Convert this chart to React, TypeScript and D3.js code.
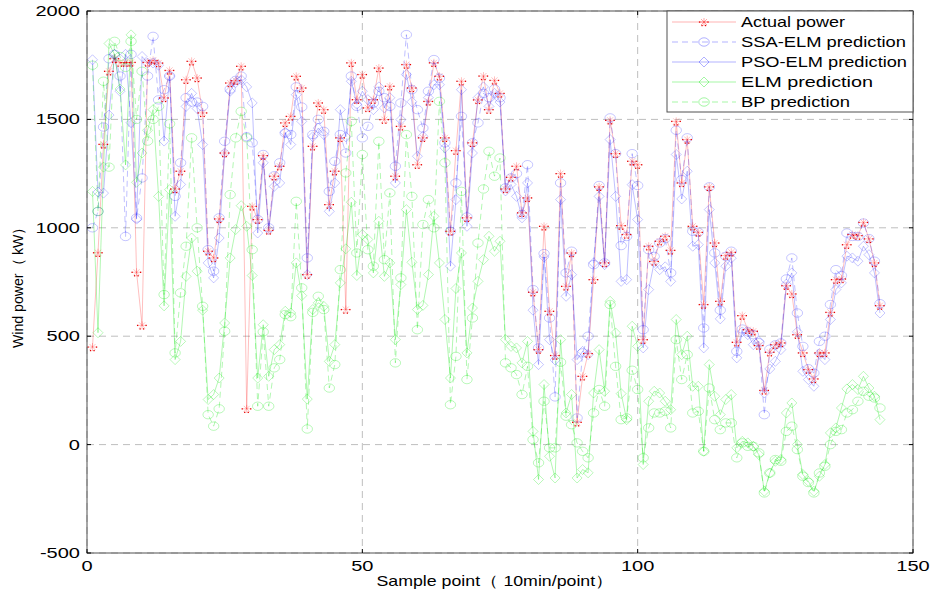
import React from "react";
import * as d3 from "d3";

// Sample points (10 min each)
const samplePoints: number[] = d3.range(1, 145);

const actualPower: number[] = [
  450, 885, 1385, 1722, 1780, 1762, 1762, 1763, 795, 550,
  1763, 1772, 1760, 1599, 1726, 1179, 1261, 1683, 1768, 1691,
  1530, 892, 861, 1041, 1345, 1668, 1679, 1745, 165, 1099,
  1038, 1333, 988, 1238, 1284, 1484, 1514, 1699, 1645, 784,
  1376, 1576, 1545, 1107, 1261, 1415, 623, 1761, 1591, 1707,
  1553, 1591, 1737, 1499, 1653, 1238, 1468, 1753, 1645, 1291,
  1415, 1583, 1761, 1699, 1415, 984, 1356, 1676, 1046, 1392,
  1590, 1700, 1545, 1680, 1620, 1179, 1233, 1284, 1069, 1138,
  703, 438, 1007, 615, 411, 1250, 730, 884, 103, 315,
  420, 761, 1189, 838, 1496, 1342, 1010, 969, 1307, 1291,
  484, 915, 845, 938, 961, 896, 1491, 1207, 1407, 1007,
  979, 646, 1189, 930, 661, 872, 887, 472, 595, 530,
  523, 457, 250, 426, 461, 469, 733, 695, 507, 423,
  346, 303, 423, 423, 610, 761, 764, 922, 969, 964,
  1025, 949, 838, 641,
];

const ssaElm: number[] = [
  1000, 1075, 1465, 1780, 1800, 1700, 960, 1800, 1045, 1230,
  1700, 1883, 1590, 1637, 1700, 1145, 1300, 1600, 1580, 1580,
  1560, 899, 800, 1046, 1399, 1640, 1680, 1700, 1420, 1392,
  1038, 1338, 1000, 1240, 1300, 1437, 1430, 1650, 1557, 861,
  1430, 1500, 1445, 1168, 1307, 1430, 1345, 1700, 1560, 1415,
  1468, 1575, 1630, 1600, 1560, 1284, 1576, 1891, 1637, 1545,
  1460, 1630, 1776, 1690, 1392, 984, 1207, 1514, 1050, 1392,
  1484, 1620, 1600, 1640, 1600, 1184, 1230, 1250, 1061, 1291,
  715, 446, 881, 584, 220, 1207, 792, 892, 123, 423,
  500, 830, 1195, 838, 1507, 1342, 918, 960, 1342, 1195,
  530, 899, 868, 930, 950, 792, 1450, 1222, 1415, 984,
  980, 538, 1189, 884, 620, 868, 892, 430, 533, 520,
  507, 470, 138, 440, 460, 469, 764, 861, 607, 453,
  350, 330, 476, 500, 646, 807, 780, 976, 960, 960,
  1022, 950, 846, 650,
];

const psoElm: number[] = [
  1775, 1165, 1160, 1520, 1800, 1630, 1800, 1485, 1040, 1790,
  1760, 1760, 1750, 1400, 1700, 1053, 1200, 1560, 1620, 1550,
  1384, 838, 769, 953, 1345, 1630, 1670, 1683, 1650, 1576,
  976, 1300, 992, 1191, 1207, 1440, 1384, 1614, 1491, 784,
  1420, 1460, 1430, 1076, 1207, 1545, 1420, 1676, 1570, 1630,
  1591, 1545, 1650, 1553, 1600, 1207, 1499, 1707, 1581, 1330,
  1422, 1600, 1660, 1660, 1369, 823, 1130, 1637, 1007, 1345,
  1600, 1650, 1560, 1620, 1580, 1170, 1200, 1145, 1046, 1207,
  620, 369, 866, 484, 390, 1130, 684, 784, 392, 430,
  415, 838, 1145, 830, 1407, 1145, 753, 761, 1199, 1038,
  446, 715, 840, 807, 820, 753, 1338, 1133, 1261, 915,
  922, 446, 1084, 838, 580, 823, 860, 400, 520, 507,
  461, 476, 238, 349, 384, 438, 740, 792, 520, 338,
  300, 269, 420, 392, 577, 715, 746, 869, 861, 846,
  915, 876, 792, 607,
];

const elmPred: number[] = [
  1168, 516, 1280, 1850, 1800, 1640, 1290, 1890, 1210, 1345,
  1450, 1545, 1145, 640, 1176, 392, 476, 776, 953, 800,
  620, 208, 231, 307, 561, 861, 992, 1102, 1007, 780,
  307, 553, 315, 438, 461, 615, 607, 838, 687, 210,
  623, 654, 638, 384, 461, 746, 903, 1118, 780, 969,
  946, 792, 1030, 776, 838, 484, 738, 1084, 841, 623,
  642, 784, 1053, 838, 577, 307, 720, 884, 423, 630,
  753, 853, 961, 892, 938, 484, 453, 446, 377, 476,
  61, -161, 277, -54, -154, 484, 146, 231, -154, -115,
  -130, 238, 438, 246, 661, 515, 235, 115, 546, 453,
  -92, 200, 246, 238, 200, 161, 577, 415, 500, 269,
  269, -31, 369, 223, 138, 208, 231, -15, 15, 8,
  -8, -46, -215, -131, -77, -69, 146, 192, 0, -138,
  -169, -215, -146, -92, 54, 77, 169, 257, 277, 254,
  315, 261, 223, 115,
];

const bpPred: number[] = [
  1750, 1076, 1676, 1280, 1860, 1790, 1740, 1860, 1500, 1722,
  1400, 1500, 1560, 692, 1480, 423, 700, 915, 1415, 1000,
  638, 138, 85, 165, 523, 1153, 1415, 1537, 1415, 899,
  177, 520, 177, 354, 392, 600, 590, 1122, 723, 72,
  610, 684, 623, 261, 369, 807, 1253, 1491, 884, 1338,
  899, 823, 1399, 853, 1161, 377, 769, 1430, 1145, 530,
  1015, 1130, 1000, 1583, 1300, 184, 407, 1168, 300, 584,
  930, 1179, 1353, 1238, 1322, 377, 354, 323, 231, 361,
  23, -84, 200, -15, -15, 380, 131, 92, 8, -31,
  -61, 146, 254, 177, 646, 361, 115, 123, 343, 254,
  -61, 77, 146, 146, 154, 77, 484, 300, 415, 146,
  154, -31, 261, 115, 69, 100, 100, -61, 8, -8,
  -8, -38, -223, -131, -69, -77, 61, 85, -23, -146,
  -175, -223, -131, -100, 0, 61, 69, 146, 161, 200,
  246, 223, 215, 169,
];

const xTicks: number[] = [0, 50, 100, 150];
const yTicks: number[] = [-500, 0, 500, 1000, 1500, 2000];
const legendLabels: string[] = [
  "Actual power",
  "SSA-ELM prediction",
  "PSO-ELM prediction",
  "ELM prediction",
  "BP prediction",
];

const W = 931;
const H = 595;
const left = 87;
const right = 913;
const top = 11;
const bottom = 553;

const RED = "rgb(255,0,0)";
const BLUE = "rgb(0,0,255)";
const GREEN = "rgb(0,230,0)";
const FONT = "'Liberation Sans', Arial, Helvetica, sans-serif";
const SX = 1.38; // horizontal stretch of lettering

type Marker = "star" | "circle" | "diamond";
interface Series {
  values: number[];
  color: string;
  dashed: boolean;
  marker: Marker;
  lineOpacity: number;
  markOpacity: number;
}

const seriesList: Series[] = [
  { values: actualPower, color: RED, dashed: false, marker: "star", lineOpacity: 0.25, markOpacity: 0.28 },
  { values: ssaElm, color: BLUE, dashed: true, marker: "circle", lineOpacity: 0.25, markOpacity: 0.25 },
  { values: psoElm, color: BLUE, dashed: false, marker: "diamond", lineOpacity: 0.25, markOpacity: 0.25 },
  { values: elmPred, color: GREEN, dashed: false, marker: "diamond", lineOpacity: 0.3, markOpacity: 0.3 },
  { values: bpPred, color: GREEN, dashed: true, marker: "circle", lineOpacity: 0.3, markOpacity: 0.3 },
];

function MarkerShape({ kind, cx, cy, color, opacity }: { kind: Marker; cx: number; cy: number; color: string; opacity: number }) {
  if (kind === "circle") {
    return <ellipse cx={cx} cy={cy} rx={5.2} ry={4.2} fill="none" stroke={color} strokeOpacity={opacity} strokeWidth={0.9} />;
  }
  if (kind === "diamond") {
    const d = `M${cx},${cy - 5}L${cx + 5},${cy}L${cx},${cy + 5}L${cx - 5},${cy}Z`;
    return <path d={d} fill="none" stroke={color} strokeOpacity={opacity} strokeWidth={0.9} />;
  }
  const r = 4;
  const a = 3;
  const d = `M${cx - r},${cy}L${cx + r},${cy}M${cx},${cy - r}L${cx},${cy + r}M${cx - a},${cy - a}L${cx + a},${cy + a}M${cx - a},${cy + a}L${cx + a},${cy - a}`;
  return <path d={d} fill="none" stroke={color} strokeOpacity={opacity} strokeWidth={0.9} />;
}

function StarDots({ cx, cy }: { cx: number; cy: number }) {
  const offs = [
    [-4.5, 0],
    [4, 0],
    [-2, 3.5],
    [1.5, 3.5],
  ];
  return (
    <g>
      {offs.map(([dx, dy], k) => (
        <rect key={k} x={cx + dx - 0.6} y={cy + dy - 0.6} width={1.3} height={1.3} fill="rgb(230,0,0)" />
      ))}
    </g>
  );
}

export default function App() {
  const x = d3.scaleLinear().domain([0, 150]).range([left, right]);
  const y = d3.scaleLinear().domain([-500, 2000]).range([bottom, top]);

  const px = (i: number) => x(samplePoints[i]);

  const lineGen = d3
    .line<number>()
    .x((_, i) => px(i))
    .y((d) => y(d));

  const legendX0 = 667;
  const legendY0 = 11;
  const legendRowY = (k: number) => 22 + k * 20;

  return (
    <div style={{ position: "absolute", left: 0, top: 0, width: W, height: H, background: "#fff" }}>
      <svg width={W} height={H} style={{ display: "block" }}>
        <rect x={0} y={0} width={W} height={H} fill="#fff" />

        {/* grid */}
        <g stroke="rgb(190,190,190)" strokeWidth={1} strokeDasharray="7,5">
          {yTicks.map((t) => (
            <line key={"gy" + t} x1={left} x2={right} y1={y(t)} y2={y(t)} />
          ))}
          {xTicks.map((t) => (
            <line key={"gx" + t} x1={x(t)} x2={x(t)} y1={top} y2={bottom} />
          ))}
        </g>

        {/* series lines */}
        {seriesList.map((s, si) => (
          <path
            key={"l" + si}
            d={lineGen(s.values) || ""}
            fill="none"
            stroke={s.color}
            strokeOpacity={s.lineOpacity}
            strokeWidth={1}
            strokeDasharray={s.dashed ? "6,4" : undefined}
          />
        ))}

        {/* series markers */}
        {seriesList.map((s, si) => (
          <g key={"m" + si}>
            {s.values.map((v, i) => (
              <MarkerShape key={i} kind={s.marker} cx={px(i)} cy={y(v)} color={s.color} opacity={s.markOpacity} />
            ))}
          </g>
        ))}

        {/* red points of the measured series */}
        <g>
          {actualPower.map((v, i) => (
            <StarDots key={i} cx={px(i)} cy={y(v)} />
          ))}
        </g>

        {/* axes box and ticks */}
        <rect x={left} y={top} width={right - left} height={bottom - top} fill="none" stroke="rgb(80,80,80)" strokeWidth={1} />
        <g stroke="#000" strokeWidth={1}>
          {yTicks.map((t) => (
            <g key={"ty" + t}>
              <line x1={left} x2={left + 4} y1={y(t)} y2={y(t)} />
              <line x1={right - 4} x2={right} y1={y(t)} y2={y(t)} />
            </g>
          ))}
          {xTicks.map((t) => (
            <g key={"tx" + t}>
              <line x1={x(t)} x2={x(t)} y1={bottom} y2={bottom - 4} />
              <line x1={x(t)} x2={x(t)} y1={top} y2={top + 4} />
            </g>
          ))}
        </g>

        {/* tick labels */}
        <g fontFamily={FONT} fontSize={14.5} fill="#000">
          {yTicks.map((t) => (
            <text key={"yl" + t} transform={`translate(${left - 7},${y(t) + 5}) scale(${SX},1)`} textAnchor="end">
              {t}
            </text>
          ))}
          {xTicks.map((t) => (
            <text key={"xl" + t} transform={`translate(${x(t)},${bottom + 18}) scale(${SX},1)`} textAnchor="middle">
              {t}
            </text>
          ))}
        </g>

        {/* axis titles */}
        <text
          x={495}
          y={586}
          fontFamily={FONT}
          fontSize={14.5}
          textAnchor="middle"
          textLength={237}
          lengthAdjust="spacingAndGlyphs"
        >
          Sample point（ 10min/point）
        </text>
        <text
          transform={`translate(23,284) rotate(-90)`}
          fontFamily={FONT}
          fontSize={14.5}
          textAnchor="middle"
          textLength={128}
          lengthAdjust="spacingAndGlyphs"
        >
          Wind power（ kW）
        </text>

        {/* legend */}
        <rect x={legendX0} y={legendY0} width={right - legendX0} height={101} fill="#fff" stroke="rgb(80,80,80)" strokeWidth={1} />
        {seriesList.map((s, k) => {
          const ly = legendRowY(k);
          return (
            <g key={"lg" + k}>
              <line
                x1={672}
                x2={736}
                y1={ly}
                y2={ly}
                stroke={s.color}
                strokeOpacity={s.lineOpacity + 0.05}
                strokeWidth={1}
                strokeDasharray={s.dashed ? "6,4" : undefined}
              />
              <MarkerShape kind={s.marker} cx={704} cy={ly} color={s.color} opacity={s.markOpacity + 0.1} />
              {s.marker === "star" && <StarDots cx={704} cy={ly} />}
              <text
                x={741}
                y={ly + 5}
                fontFamily={FONT}
                fontSize={14.5}
                textLength={[104, 165, 166, 132, 109][k]}
                lengthAdjust="spacingAndGlyphs"
              >
                {legendLabels[k]}
              </text>
            </g>
          );
        })}
      </svg>
    </div>
  );
}
